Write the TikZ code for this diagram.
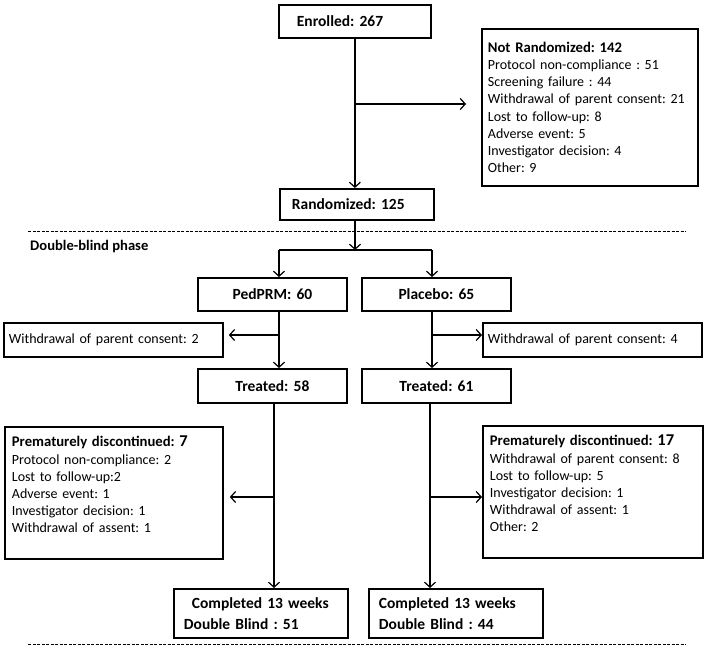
\documentclass[tikz,border=0pt]{standalone}
\usepackage{fontspec}
\setmainfont{Carlito}
\usepackage{tikz}
\usetikzlibrary{arrows.meta}
\frenchspacing

\begin{document}
\begin{tikzpicture}[x=1pt,y=-1pt,
	box/.style={draw, rectangle, black, line width=1.8pt, anchor=north west, align=left, inner ysep=0pt, font=\fontsize{14}{17.1}\selectfont},
	bigbox/.style={box, font=\fontsize{15.5}{21}\selectfont\bfseries},
	flow/.style={black, line width=1.2pt, -{Straight Barb[length=5pt,width=11pt]}},
	bar/.style={black, line width=1.2pt},
	sep/.style={black, line width=0.6pt, dash pattern=on 3pt off 1.5pt}]
	\useasboundingbox (0,0) rectangle (705,648);

	\node [name=enrolled, bigbox, minimum width=152, minimum height=33, inner xsep=18, text width=116] at (278,4) {Enrolled: 267};
	\node [name=notrand, box, minimum width=216, minimum height=157, inner xsep=6, text width=204] at (481,28) {{\fontsize{14.7}{17.1}\selectfont\bfseries Not Randomized: 142}\\
		Protocol non-compliance : 51\\
		Screening failure : 44\\
		Withdrawal of parent consent: 21\\
		Lost to follow-up: 8\\
		Adverse event: 5\\
		Investigator decision: 4\\
		Other: 9};
	\node [name=randomized, bigbox, minimum width=154, minimum height=31, inner xsep=12, text width=130] at (279,188) {Randomized: 125};

	\draw [sep] (28,231) -- (686,231);
	\node [name=phase, anchor=west, inner xsep=0, font=\fontsize{14.6}{17.1}\selectfont\bfseries] at (30,247) {Double-blind phase};

	\node [name=pedprm, bigbox, align=center, minimum width=149, minimum height=33, inner xsep=4, text width=141] at (197,277) {PedPRM: 60};
	\node [name=placebo, bigbox, align=center, minimum width=149, minimum height=33, inner xsep=4, text width=141] at (361,277) {Placebo: 65};

	\node [name=wdL, box, minimum width=219, minimum height=34, inner xsep=5, text width=209] at (3,322) {Withdrawal of parent consent: 2};
	\node [name=wdR, box, minimum width=219, minimum height=34, inner xsep=5, text width=209] at (482,322) {Withdrawal of parent consent: 4};

	\node [name=treatedL, bigbox, align=center, minimum width=149, minimum height=34, inner xsep=4, text width=141] at (197,368) {Treated: 58};
	\node [name=treatedR, bigbox, align=center, minimum width=149, minimum height=34, inner xsep=4, text width=141] at (361,368) {Treated: 61};

	\node [name=premL, box, minimum width=218, minimum height=132, inner xsep=7, text width=204] at (4,426) {{\fontsize{14.7}{17.1}\selectfont\bfseries Prematurely discontinued: {\fontsize{16.5}{17.1}\selectfont 7}}\\
		Protocol non-compliance: 2\\
		Lost to follow-up:2\\
		Adverse event: 1\\
		Investigator decision: 1\\
		Withdrawal of assent: 1\\
		\rule{0pt}{12pt}};
	\node [name=premR, box, minimum width=220, minimum height=132, inner xsep=7, text width=206] at (482,425) {{\fontsize{14.7}{17.1}\selectfont\bfseries Prematurely discontinued: {\fontsize{16.5}{17.1}\selectfont 17}}\\
		Withdrawal of parent consent: 8\\
		Lost to follow-up: 5\\
		Investigator decision: 1\\
		Withdrawal of assent: 1\\
		Other: 2\\
		\rule{0pt}{12pt}};

	\node [name=compL, bigbox, minimum width=174, minimum height=49, inner xsep=10, text width=154] at (173,588) {\hspace*{8pt}Completed 13 weeks\\Double Blind : 51};
	\node [name=compR, bigbox, minimum width=174, minimum height=49, inner xsep=10, text width=154] at (368,588) {Completed 13 weeks\\Double Blind : 44};

	\draw [sep] (28,644) -- (686,644);

	% split points
	\coordinate (nrsplit) at (354,104);
	\coordinate (rsplit) at (355,250);
	\coordinate (pl) at (279,250);
	\coordinate (pr) at (432,250);
	\coordinate (wsL) at (279,335);
	\coordinate (wsR) at (432,335);
	\coordinate (ql) at (274,497);
	\coordinate (qr) at (430,497);

	\draw [flow] (enrolled.south) -- (enrolled.south |- randomized.north);
	\draw [flow, shorten >=15pt] (nrsplit) -- (notrand.west |- nrsplit);

	\draw [flow] (randomized.south -| rsplit) -- (rsplit);
	\draw [bar] (pl) -- (pr);
	\draw [flow] (pl) -- (pl |- pedprm.north);
	\draw [flow] (pr) -- (pr |- placebo.north);

	\draw [flow] (pedprm.south -| pl) -- (pl |- treatedL.north);
	\draw [flow] (placebo.south -| pr) -- (pr |- treatedR.north);
	\draw [flow, shorten >=5pt] (wsL) -- (wdL.east |- wsL);
	\draw [flow] (wsR) -- (wdR.west |- wsR);

	\draw [flow] (treatedL.south -| ql) -- (ql |- compL.north);
	\draw [flow] (treatedR.south -| qr) -- (qr |- compR.north);
	\draw [flow, shorten >=6pt] (ql) -- (premL.east |- ql);
	\draw [flow] (qr) -- (premR.west |- qr);

\end{tikzpicture}
\end{document}
